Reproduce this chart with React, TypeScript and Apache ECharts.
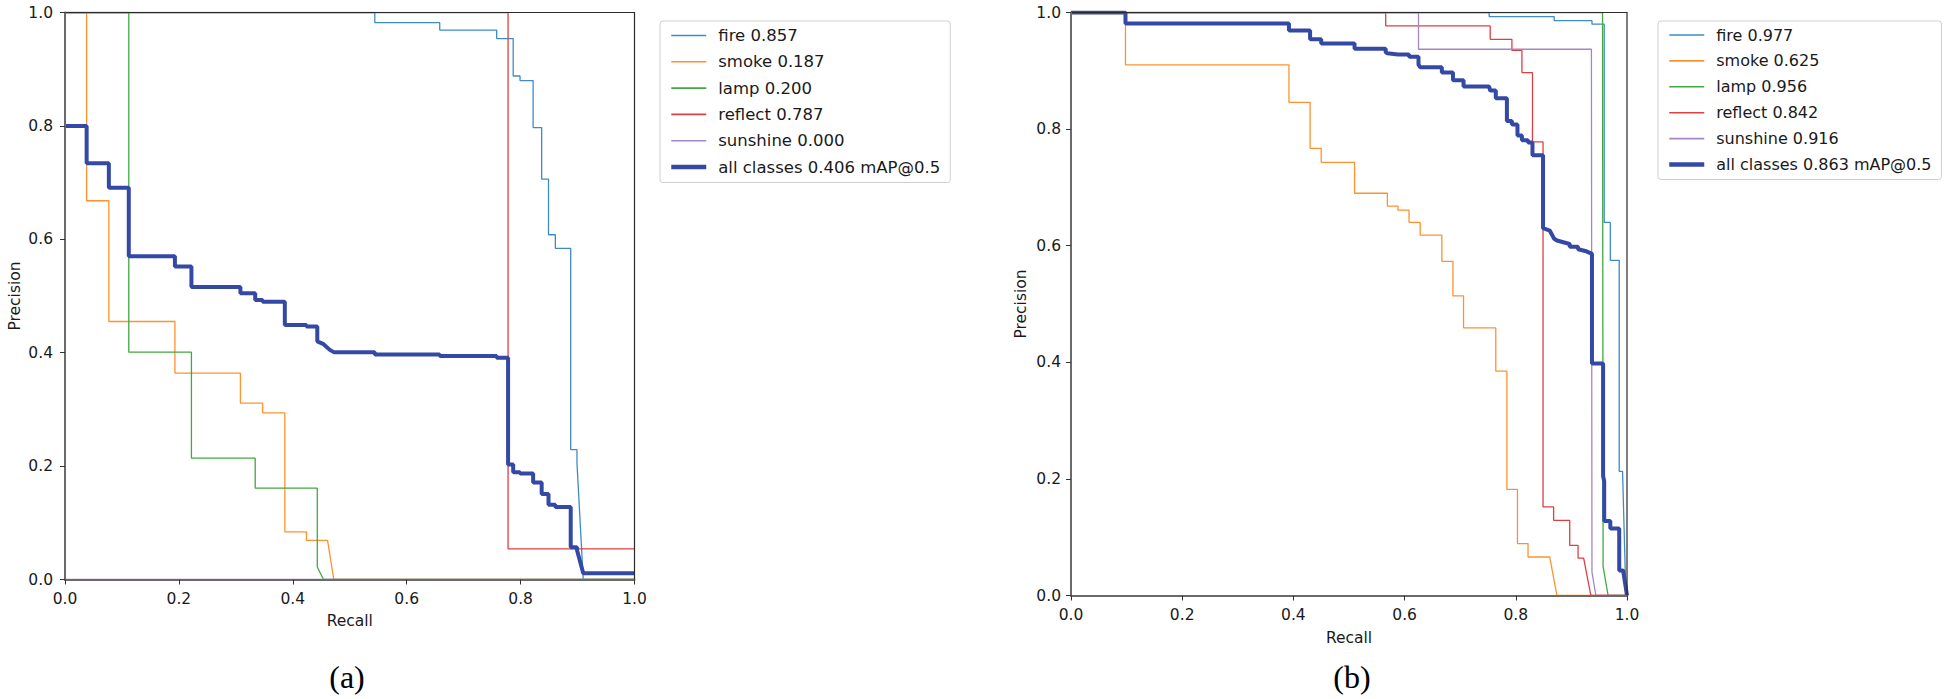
import React, { useEffect, useRef } from 'react';
import * as echarts from 'echarts';

type Pt = [number, number];

const axisTicks = [0, 0.2, 0.4, 0.6, 0.8, 1.0];

const namesA = ['fire 0.857', 'smoke 0.187', 'lamp 0.200', 'reflect 0.787', 'sunshine 0.000', 'all classes 0.406 mAP@0.5'];
const namesB = ['fire 0.977', 'smoke 0.625', 'lamp 0.956', 'reflect 0.842', 'sunshine 0.916', 'all classes 0.863 mAP@0.5'];

// ---- (a) ----
const fireA: Pt[] = [[0, 1], [0.544, 1], [0.544, 0.982], [0.658, 0.982], [0.658, 0.969], [0.758, 0.969], [0.758, 0.954], [0.787, 0.954], [0.787, 0.888], [0.799, 0.888], [0.799, 0.880], [0.822, 0.880], [0.822, 0.797], [0.837, 0.797], [0.837, 0.706], [0.849, 0.706], [0.849, 0.608], [0.861, 0.608], [0.861, 0.584], [0.888, 0.584], [0.888, 0.229], [0.899, 0.229], [0.899, 0.205], [0.910, 0], [1, 0]];
const smokeA: Pt[] = [[0, 1], [0.038, 1], [0.038, 0.668], [0.077, 0.668], [0.077, 0.455], [0.193, 0.455], [0.193, 0.364], [0.308, 0.364], [0.308, 0.311], [0.347, 0.311], [0.347, 0.294], [0.386, 0.294], [0.386, 0.084], [0.424, 0.084], [0.424, 0.069], [0.461, 0.069], [0.472, 0], [1, 0]];
const lampA: Pt[] = [[0, 1], [0.112, 1], [0.112, 0.401], [0.222, 0.401], [0.222, 0.214], [0.334, 0.214], [0.334, 0.161], [0.443, 0.161], [0.443, 0.022], [0.454, 0], [1, 0]];
const reflectA: Pt[] = [[0, 1], [0.778, 1], [0.778, 0.054], [1, 0.054]];
const sunshineA: Pt[] = [[0, 0], [1, 0]];
const allA: Pt[] = [[0, 0.8], [0.038, 0.8], [0.038, 0.734], [0.077, 0.734], [0.077, 0.691], [0.112, 0.691], [0.112, 0.570], [0.193, 0.570], [0.193, 0.552], [0.222, 0.552], [0.222, 0.516], [0.308, 0.516], [0.308, 0.505], [0.334, 0.505], [0.334, 0.493], [0.347, 0.493], [0.347, 0.490], [0.386, 0.490], [0.386, 0.449], [0.424, 0.449], [0.424, 0.446], [0.443, 0.446], [0.443, 0.420], [0.454, 0.415], [0.465, 0.405], [0.472, 0.401], [0.544, 0.401], [0.544, 0.397], [0.658, 0.397], [0.658, 0.394], [0.758, 0.394], [0.758, 0.391], [0.778, 0.391], [0.778, 0.203], [0.787, 0.203], [0.787, 0.189], [0.799, 0.189], [0.799, 0.187], [0.822, 0.187], [0.822, 0.171], [0.837, 0.171], [0.837, 0.151], [0.849, 0.151], [0.849, 0.132], [0.861, 0.132], [0.861, 0.128], [0.888, 0.128], [0.888, 0.057], [0.899, 0.057], [0.899, 0.052], [0.910, 0.011], [1, 0.011]];

// ---- (b) ----
const fireB: Pt[] = [[0, 1], [0.752, 1], [0.752, 0.993], [0.869, 0.993], [0.869, 0.986], [0.937, 0.986], [0.937, 0.980], [0.959, 0.980], [0.959, 0.640], [0.970, 0.640], [0.970, 0.575], [0.986, 0.575], [0.986, 0.213], [0.992, 0.213], [0.998, 0], [1, 0]];
const smokeB: Pt[] = [[0, 1], [0.098, 1], [0.098, 0.910], [0.392, 0.910], [0.392, 0.846], [0.430, 0.846], [0.430, 0.767], [0.450, 0.767], [0.450, 0.743], [0.510, 0.743], [0.510, 0.690], [0.569, 0.690], [0.569, 0.668], [0.588, 0.668], [0.588, 0.661], [0.608, 0.661], [0.608, 0.640], [0.628, 0.640], [0.628, 0.618], [0.667, 0.618], [0.667, 0.573], [0.687, 0.573], [0.687, 0.514], [0.706, 0.514], [0.706, 0.459], [0.764, 0.459], [0.764, 0.385], [0.784, 0.385], [0.784, 0.182], [0.803, 0.182], [0.803, 0.089], [0.822, 0.089], [0.822, 0.066], [0.861, 0.066], [0.874, 0], [1, 0]];
const lampB: Pt[] = [[0, 1], [0.956, 1], [0.957, 0.05], [0.966, 0], [1, 0]];
const reflectB: Pt[] = [[0, 1], [0.566, 1], [0.566, 0.977], [0.754, 0.977], [0.754, 0.954], [0.793, 0.954], [0.793, 0.935], [0.811, 0.935], [0.811, 0.897], [0.830, 0.897], [0.830, 0.778], [0.849, 0.778], [0.849, 0.152], [0.868, 0.152], [0.868, 0.129], [0.897, 0.129], [0.897, 0.086], [0.912, 0.086], [0.912, 0.064], [0.922, 0.064], [0.935, 0], [1, 0]];
const sunshineB: Pt[] = [[0, 1], [0.625, 1], [0.625, 0.937], [0.936, 0.937], [0.937, 0.04], [0.944, 0], [1, 0]];
const allB: Pt[] = [[0, 1], [0.098, 1], [0.098, 0.981], [0.392, 0.981], [0.392, 0.969], [0.430, 0.969], [0.430, 0.954], [0.450, 0.954], [0.450, 0.947], [0.510, 0.947], [0.510, 0.938], [0.566, 0.938], [0.566, 0.932], [0.569, 0.930], [0.588, 0.928], [0.608, 0.928], [0.608, 0.924], [0.625, 0.924], [0.625, 0.911], [0.628, 0.906], [0.667, 0.906], [0.667, 0.897], [0.687, 0.897], [0.687, 0.884], [0.706, 0.884], [0.706, 0.873], [0.752, 0.873], [0.754, 0.866], [0.764, 0.866], [0.764, 0.853], [0.784, 0.853], [0.784, 0.814], [0.793, 0.814], [0.793, 0.808], [0.803, 0.808], [0.803, 0.789], [0.811, 0.789], [0.811, 0.781], [0.822, 0.781], [0.822, 0.777], [0.830, 0.777], [0.830, 0.755], [0.849, 0.755], [0.849, 0.630], [0.861, 0.626], [0.869, 0.612], [0.874, 0.609], [0.897, 0.603], [0.897, 0.598], [0.912, 0.598], [0.912, 0.594], [0.925, 0.591], [0.937, 0.586], [0.937, 0.398], [0.957, 0.398], [0.957, 0.205], [0.959, 0.196], [0.959, 0.128], [0.970, 0.128], [0.970, 0.115], [0.986, 0.115], [0.986, 0.043], [0.993, 0.043], [1, 0]];

const classColors = ['#3d8cc6', '#fe922e', '#42a842', '#dd4043', '#a585c6'];
const allColor = '#3449a6';

const FONT = 'DejaVu Sans';
const TXT = '#1a1a1a';

function mkSeries(name: string, data: Pt[], color: string, width: number, idx: number) {
  return {
    type: 'line',
    name,
    data,
    xAxisIndex: idx,
    yAxisIndex: idx,
    symbol: 'none',
    showSymbol: false,
    silent: true,
    lineStyle: { color, width },
    itemStyle: { color },
    z: width > 2 ? 3 : 2,
  };
}

function mkX(idx: number, gap: number) {
  return {
    type: 'value',
    gridIndex: idx,
    z: 8,
    min: axisTicks[0],
    max: axisTicks[axisTicks.length - 1],
    interval: 0.2,
    name: 'Recall',
    nameLocation: 'middle',
    nameGap: gap,
    nameTextStyle: { fontSize: 15.5, color: TXT, fontFamily: FONT },
    axisLine: { show: true, onZero: false, lineStyle: { color: '#6a6a6a', width: 2 } },
    axisTick: { show: true, length: 5, lineStyle: { color: '#333', width: 1 } },
    axisLabel: { margin: 11, fontSize: 15.5, color: TXT, fontFamily: FONT, formatter: (v: number) => v.toFixed(1) },
    splitLine: { show: false },
  };
}

function mkY(idx: number, margin: number) {
  return {
    type: 'value',
    gridIndex: idx,
    z: 8,
    min: axisTicks[0],
    max: axisTicks[axisTicks.length - 1],
    interval: 0.2,
    name: 'Precision',
    nameLocation: 'middle',
    nameGap: 42,
    nameTextStyle: { fontSize: 15.5, color: TXT, fontFamily: FONT },
    axisLine: { show: true, onZero: false, lineStyle: { color: '#6a6a6a', width: 2 } },
    axisTick: { show: true, length: 5, lineStyle: { color: '#333', width: 1 } },
    axisLabel: { margin, fontSize: 15.5, color: TXT, fontFamily: FONT, formatter: (v: number) => v.toFixed(1) },
    splitLine: { show: false },
  };
}

function mkLegend(names: string[], left: number, gap: number, fontSize: number) {
  return {
    orient: 'vertical',
    left,
    top: 21,
    z: 10,
    itemWidth: 35,
    itemHeight: 16,
    itemGap: gap,
    padding: [6, 10, 7, 9],
    borderColor: '#cfcfcf',
    borderWidth: 1,
    borderRadius: 3,
    backgroundColor: '#fff',
    selectedMode: false,
    itemStyle: { opacity: 0 },
    lineStyle: { width: 1.6 },
    textStyle: { fontSize, color: TXT, fontFamily: FONT, padding: [0, 0, 0, 7] },
    data: names.map((n, i) => (i === names.length - 1 ? { name: n, lineStyle: { width: 4.5 } } : { name: n })),
  };
}

export default function App() {
  const ref = useRef<HTMLDivElement>(null);
  useEffect(() => {
    if (!ref.current) return;
    const chart = echarts.init(ref.current, undefined, { renderer: 'svg' });
    const dataA = [fireA, smokeA, lampA, reflectA, sunshineA];
    const dataB = [fireB, smokeB, lampB, reflectB, sunshineB];
    const series: any[] = [];
    dataA.forEach((d, i) => series.push(mkSeries(namesA[i], d, classColors[i], 1.3, 0)));
    series.push(mkSeries(namesA[5], allA, allColor, 4, 0));
    dataB.forEach((d, i) => series.push(mkSeries(namesB[i], d, classColors[i], 1.3, 1)));
    series.push(mkSeries(namesB[5], allB, allColor, 4, 1));

    chart.setOption({
      animation: false,
      backgroundColor: '#fff',
      grid: [
        { left: 65, top: 12.5, width: 569.5, height: 567, show: true, z: 6, borderColor: '#2a2a2a', borderWidth: 1.2, backgroundColor: 'transparent' },
        { left: 1071, top: 12.5, width: 556, height: 583, show: true, z: 6, borderColor: '#2a2a2a', borderWidth: 1.2, backgroundColor: 'transparent' },
      ],
      xAxis: [mkX(0, 33), mkX(1, 34)],
      yAxis: [mkY(0, 12), mkY(1, 10)],
      legend: [mkLegend(namesA, 660, 9.3, 16.5), mkLegend(namesB, 1658, 9.9, 16)],
      series,
      graphic: [
        { type: 'text', x: 347, y: 677, style: { text: '(a)', fontSize: 32, fontFamily: 'Liberation Serif', fill: '#000', align: 'center', verticalAlign: 'middle' } },
        { type: 'text', x: 1352, y: 677, style: { text: '(b)', fontSize: 32, fontFamily: 'Liberation Serif', fill: '#000', align: 'center', verticalAlign: 'middle' } },
      ],
    });
    return () => chart.dispose();
  }, []);
  return <div ref={ref} style={{ position: 'fixed', left: 0, top: 0, width: 1945, height: 699 }} />;
}
